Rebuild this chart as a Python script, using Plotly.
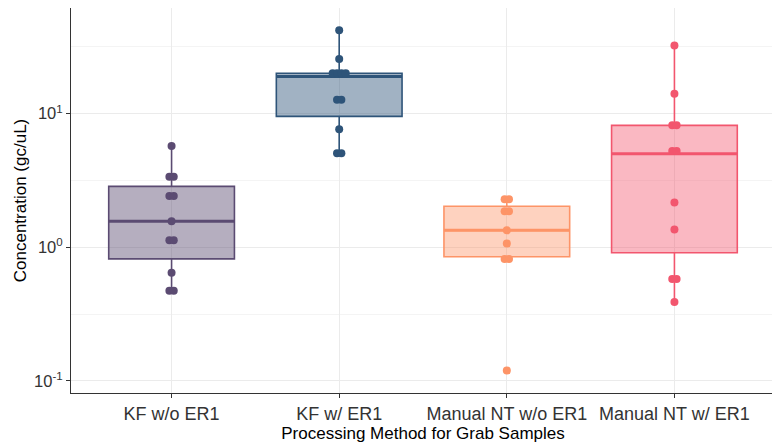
import plotly.graph_objects as go
from collections import Counter

# categories and colours
methods = ["KF w/o ER1", "KF w/ ER1", "Manual NT w/o ER1", "Manual NT w/ ER1"]
line_colors = ["#5b4b72", "#2e5479", "#fd9467", "#f2566e"]
fill_colors = ["rgba(91,75,114,0.45)", "rgba(46,84,121,0.45)",
               "rgba(253,148,103,0.42)", "rgba(242,86,110,0.42)"]

# sample values (gc/uL)
kf_wo = [5.73, 3.37, 3.37, 2.42, 2.42, 1.57, 1.13, 1.13, 0.645, 0.474, 0.474]
kf_w = [42.1, 25.7, 20.1, 20.1, 20.1, 20.1, 12.7, 12.7, 7.64, 5.06, 5.06]
nt_wo = [2.29, 2.29, 1.86, 1.86, 1.34, 1.07, 0.818, 0.818, 0.12]
nt_w = [32.4, 14.1, 8.18, 8.18, 5.26, 5.26, 2.17, 1.36, 0.58, 0.58, 0.39]
samples = [kf_wo, kf_w, nt_wo, nt_w]

# box statistics
q1 = [0.82, 9.55, 0.85, 0.912]
median = [1.57, 19.0, 1.34, 5.02]
q3 = [2.86, 20.1, 2.03, 8.18]
lower_fence = [0.474, 5.06, 0.818, 0.39]
upper_fence = [5.73, 42.1, 2.29, 32.4]

box_w = 0.75
dodge = 0.026

fig = go.Figure()

for i, name in enumerate(methods):
    fig.add_trace(go.Box(
        x=[i], q1=[q1[i]], median=[median[i]], q3=[q3[i]],
        lowerfence=[lower_fence[i]], upperfence=[upper_fence[i]],
        width=box_w, whiskerwidth=0, boxpoints=False,
        line=dict(color=line_colors[i], width=1.6),
        fillcolor=fill_colors[i], name=name, showlegend=False,
        hoverinfo="skip",
    ))
    # thicker median line like ggplot
    fig.add_trace(go.Scatter(
        x=[i - box_w / 2, i + box_w / 2], y=[median[i], median[i]],
        mode="lines", line=dict(color=line_colors[i], width=3),
        showlegend=False, hoverinfo="skip",
    ))
    # points, dodged sideways when values repeat
    counts = Counter(samples[i])
    xs, ys = [], []
    for v, n in counts.items():
        for k in range(n):
            xs.append(i + (k - (n - 1) / 2) * dodge)
            ys.append(v)
    fig.add_trace(go.Scatter(
        x=xs, y=ys, mode="markers",
        marker=dict(color=line_colors[i], size=8),
        showlegend=False,
    ))

# page body has an 8px margin, so the figure is sized/offset to suit
fig.update_layout(
    width=772, height=437,
    margin=dict(l=63, r=5, t=0, b=52),
    plot_bgcolor="white", paper_bgcolor="white",
    font=dict(family="Liberation Sans, Arial, sans-serif", size=17, color="#000"),
    showlegend=False,
)

fig.update_xaxes(
    range=[-0.6, 3.6],
    tickvals=list(range(len(methods))), ticktext=methods,
    showgrid=True, gridcolor="#ebebeb", gridwidth=1,
    ticks="outside", ticklen=4, tickcolor="#333",
    showline=True, linecolor="#333", linewidth=1, mirror=True,
    zeroline=False,
    tickfont=dict(size=18, color="#333"),
    title=dict(text="Processing Method for Grab Samples",
               font=dict(size=17, color="#000"), standoff=2),
)

fig.update_yaxes(
    type="log", range=[-1.09, 1.791],
    tickvals=[0.1, 1, 10], ticktext=["10<sup>-1</sup>", "10<sup>0</sup>", "10<sup>1</sup>"],
    showgrid=True, gridcolor="#ebebeb", gridwidth=1,
    minor=dict(tickvals=[10 ** -0.5, 10 ** 0.5, 10 ** 1.5], showgrid=True,
               gridcolor="#f4f4f4", gridwidth=1, ticks=""),
    ticks="outside", ticklen=4, tickcolor="#333",
    showline=True, linecolor="#333", linewidth=1, mirror=True,
    zeroline=False,
    tickfont=dict(size=16.5, color="#333"),
    title=dict(text="Concentration (gc/uL)", font=dict(size=17, color="#000"), standoff=3),
)

fig.write_html("out.html")
